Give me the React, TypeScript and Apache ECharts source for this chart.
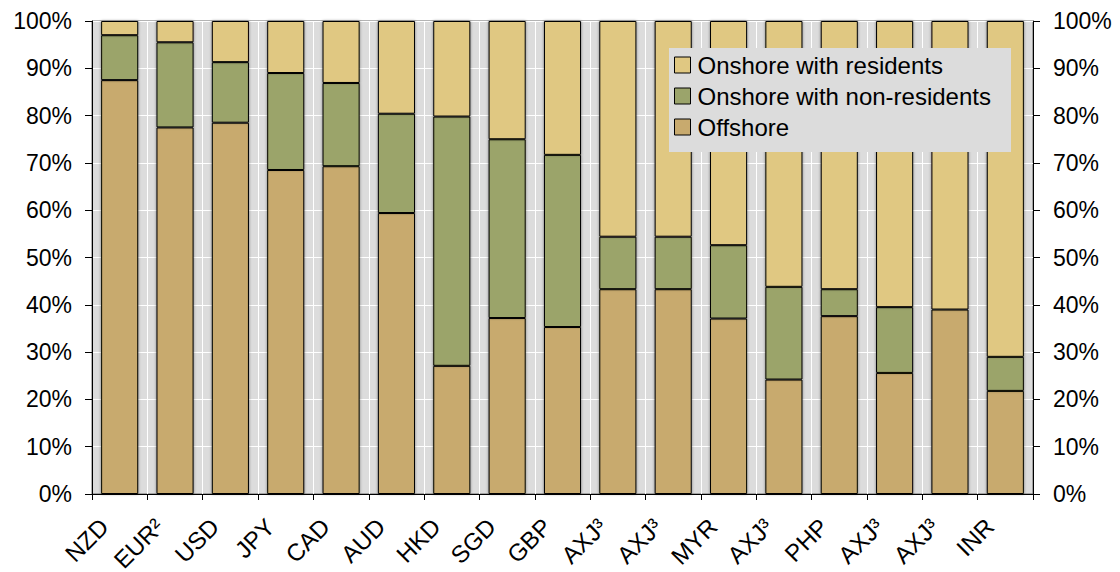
import React, { useEffect, useRef } from "react";
import * as echarts from "echarts";

const categories = ["NZD", "EUR²", "USD", "JPY", "CAD", "AUD", "HKD", "SGD", "GBP", "AXJ³", "AXJ³", "MYR", "AXJ³", "PHP", "AXJ³", "AXJ³", "INR"];
const offshore = [87.5, 77.5, 78.5, 68.5, 69.3, 59.4, 27.1, 37.2, 35.3, 43.3, 43.3, 37.1, 24.2, 37.6, 25.6, 39.0, 21.8];
const onshoreNonResidents = [9.5, 18.0, 12.8, 20.5, 17.6, 21.0, 52.7, 37.8, 36.4, 11.1, 11.1, 15.5, 19.6, 5.7, 13.9, 0, 7.2];
const onshoreResidents = [3.0, 4.5, 8.7, 11.0, 13.1, 19.6, 20.2, 25.0, 28.3, 45.6, 45.6, 47.4, 56.2, 56.7, 60.5, 61.0, 71.0];
const seriesNames = ["Onshore with residents", "Onshore with non-residents", "Offshore"];
const yTicks = { min: 0, max: 100, interval: 10 };

const FONT = "'Liberation Sans', Arial, sans-serif";
const colors = { residents: "#E0C882", nonResidents: "#9BA46B", offshore: "#C8AA6E" };

export default function App() {
  const ref = useRef<HTMLDivElement>(null);
  useEffect(() => {
    if (!ref.current) return;
    const chart = echarts.init(ref.current, null, { renderer: "svg" });
    const barStyle = (color: string) => ({
      color,
      borderColor: "#000",
      borderWidth: 1,
      shadowColor: "rgba(0,0,0,0.45)",
      shadowBlur: 3,
    });
    const yAxisBase = {
      type: "value",
      min: yTicks.min,
      max: yTicks.max,
      interval: yTicks.interval,
      axisLine: { show: true, lineStyle: { color: "#000", width: 1 } },
      axisTick: { show: true, inside: false, length: 7, lineStyle: { color: "#000" } },
      axisLabel: { formatter: "{value}%", fontSize: 23, color: "#000", fontFamily: FONT, margin: 20 },
    };
    chart.setOption({
      animation: false,
      textStyle: { fontFamily: FONT },
      grid: {
        left: 92,
        right: 87,
        top: 21,
        bottom: 78,
        containLabel: false,
        outerBoundsMode: "none",
        show: true,
        backgroundColor: "#DCDCDC",
        borderColor: "#666",
        borderWidth: 1,
      },
      legend: {
        data: seriesNames,
        orient: "vertical",
        left: 669,
        top: 48,
        padding: [5, 20, 13, 5],
        itemGap: 7,
        itemWidth: 16,
        itemHeight: 16,
        backgroundColor: "#DCDCDC",
        icon: "rect",
        itemStyle: { borderColor: "#000", borderWidth: 1 },
        textStyle: { fontSize: 24, color: "#000", fontFamily: FONT, padding: [0, 0, 0, 2] },
      },
      xAxis: {
        type: "category",
        data: categories,
        axisLine: { show: true, lineStyle: { color: "#000", width: 1 } },
        axisTick: { show: true, interval: 0, length: 6, lineStyle: { color: "#000" } },
        splitLine: { show: true, interval: 0, lineStyle: { color: "#fff", width: 1 } },
        axisLabel: {
          interval: 0,
          rotate: 45,
          fontSize: 24,
          color: "#000",
          fontFamily: FONT,
          margin: 13,
          padding: [0, 22, 0, 0],
        },
      },
      yAxis: [
        {
          ...yAxisBase,
          position: "left",
          splitLine: { show: true, lineStyle: { color: "#fff", width: 1 } },
        },
        {
          ...yAxisBase,
          position: "right",
          splitLine: { show: false },
        },
      ],
      series: [
        {
          name: seriesNames[2],
          type: "bar",
          stack: "total",
          data: offshore,
          barWidth: "67%",
          itemStyle: barStyle(colors.offshore),
        },
        {
          name: seriesNames[1],
          type: "bar",
          stack: "total",
          data: onshoreNonResidents,
          barWidth: "67%",
          itemStyle: barStyle(colors.nonResidents),
        },
        {
          name: seriesNames[0],
          type: "bar",
          stack: "total",
          data: onshoreResidents,
          barWidth: "67%",
          itemStyle: barStyle(colors.residents),
        },
      ],
    });
    return () => chart.dispose();
  }, []);
  return <div ref={ref} style={{ position: "absolute", left: 0, top: 0, width: 1120, height: 572 }} />;
}
